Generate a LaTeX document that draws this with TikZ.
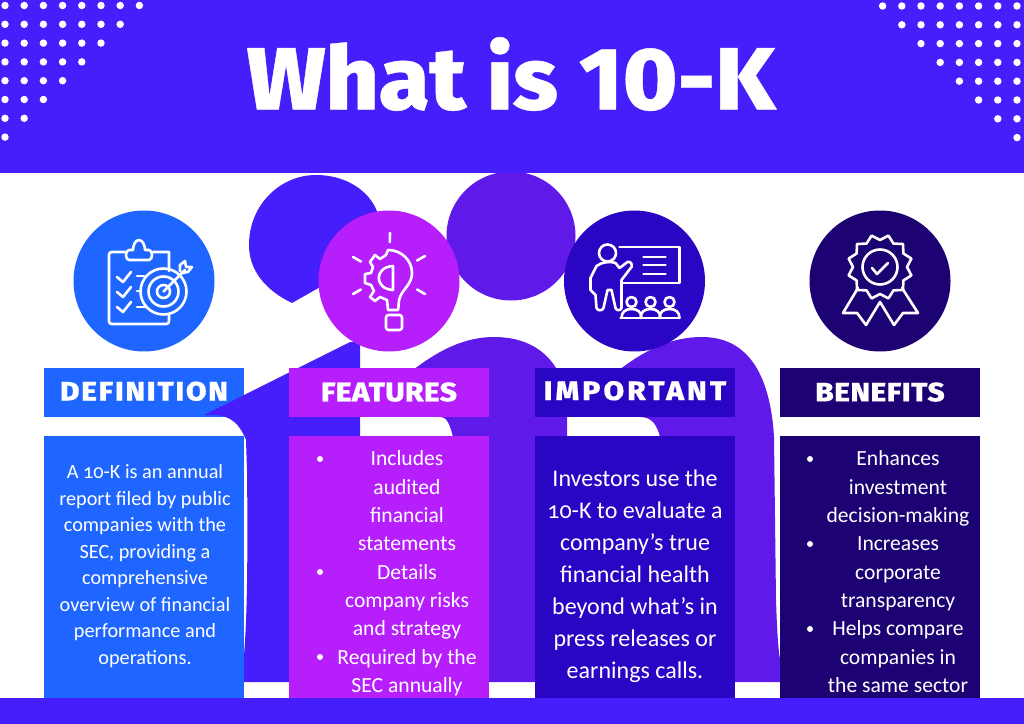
\documentclass[tikz,border=0pt]{standalone}
\usepackage{fontspec}
\usepackage{tikz}
\setmainfont{Carlito}
\newfontfamily\bodyfont[Numbers=OldStyle]{Carlito}
\newfontfamily\titlefont[FakeStretch=1.05,FakeBold=0.5]{Fira Sans ExtraBold}
\newfontfamily\headfont[FakeStretch=1.12,FakeBold=0.4]{Fira Sans ExtraBold}

\definecolor{bandblue}{HTML}{461EFC}
\definecolor{shapepurple}{HTML}{5F19E8}
\definecolor{defblue}{HTML}{1E66FF}
\definecolor{featpink}{HTML}{B61FFC}
\definecolor{impindigo}{HTML}{2A05C4}
\definecolor{bennavy}{HTML}{1C0273}

\tikzset{
    headbox/.style={minimum width=150pt,minimum height=36.75pt,inner sep=0pt,text=white,font=\headfont\fontsize{20pt}{22pt}\selectfont},
    bodybox/.style={minimum width=150pt,minimum height=196.5pt,inner sep=0pt,anchor=north},
    iconcircle/.style={circle,minimum size=105.75pt,inner sep=0pt},
    iconline/.style={draw=white,line width=1.95pt,line cap=round,line join=round},
    bodytext/.style={text=white,align=center,inner sep=0pt,anchor=north},
    dotmark/.style={circle,fill=white,minimum size=5.6pt,inner sep=0pt},
    bulletmark/.style={circle,fill=white,minimum size=4.5pt,inner sep=0pt},
}

\begin{document}
\begin{tikzpicture}[x=0.75pt,y=0.75pt,yscale=-1,xscale=1]
    \useasboundingbox (0,0) rectangle (1024,724);
    \fill[white] (0,0) rectangle (1024,724);

    % First header box sits under the shapes
    \node[headbox,fill=defblue] (defhead) at (144,392.5) {\raisebox{2.25pt}{\addfontfeature{LetterSpace=6.6}DEFINITION}};

    % Heads
    \fill[bandblue] (292,303) .. controls (265,290) and (249,270) .. (249,245) .. controls (249,205) and (280,175) .. (316,175) .. controls (345,175) and (370,190) .. (378,214) -- (350,270) -- cycle;
    \fill[shapepurple] (511,236) circle (64.5);
    % Bodies
    \fill[bandblue] (204,415) -- (350,342) -- (360,342) -- (360,682) -- (244,682) -- (244,655) .. controls (247,620) and (248,560) .. (247,470) -- (246,440) .. controls (240,425) and (232,416) .. (215,415) -- cycle;
    \fill[shapepurple] (360,416) -- (417,367) .. controls (440,350) and (465,337) .. (494,337) .. controls (525,337) and (545,350) .. (556,368) -- (567,417) -- (567,682) -- (453,682) -- (453,437) .. controls (450,425) and (447,417) .. (441,417) -- cycle;
    \fill[shapepurple] (565,416) -- (623,367) .. controls (650,347) and (675,337) .. (702,337) .. controls (745,337) and (770,370) .. (774,437) -- (776,600) .. controls (777,630) and (778,650) .. (781,665) -- (781,682) -- (660,682) -- (660,437) .. controls (657,425) and (652,417) .. (640,417) -- cycle;

    % Bands
    \fill[bandblue] (0,0) rectangle (1024,173);
    \fill[bandblue] (0,698) rectangle (1024,724);

    % Dots
    \foreach \r in {0,...,7}{
        \pgfmathtruncatemacro{\last}{7-\r}
        \foreach \c in {0,...,\last}{
            \node[dotmark] (dl\r\c) at (5+19.2*\c,5.5+18.8*\r) {};
            \node[dotmark] (dr\r\c) at (1017-19.2*\c,6+18.8*\r) {};
        }
    }

    % Title
    \node[text=white,inner sep=0pt,font=\titlefont\fontsize{66pt}{70pt}\selectfont] (title) at (511,74) {What is 10-K};

    % Header boxes
    \node[headbox,fill=featpink] (feathead) at (389,392.5) {\raisebox{1.1pt}{\addfontfeature{LetterSpace=1.5}FEATURES}};
    \node[headbox,fill=impindigo] (imphead) at (635,392.5) {\raisebox{3pt}{\addfontfeature{LetterSpace=11.7}IMPORTANT}};
    \node[headbox,fill=bennavy] (benhead) at (880,392.5) {\raisebox{1pt}{\addfontfeature{LetterSpace=2}BENEFITS}};

    % Body boxes
    \node[bodybox,fill=defblue] (defbody) at (144,436) {};
    \node[bodybox,fill=featpink] (featbody) at (389,436) {};
    \node[bodybox,fill=impindigo] (impbody) at (635,436) {};
    \node[bodybox,fill=bennavy] (benbody) at (880,436) {};

    % Body text
    \node[bodytext,font=\bodyfont\fontsize{15.2pt}{19.85pt}\selectfont] (deftext) at (145,464.5) {A 10-K is an annual\\report filed by public\\companies with the\\SEC, providing a\\comprehensive\\overview of financial\\performance and\\operations.};
    \node[bodytext,font=\bodyfont\fontsize{16.2pt}{21.25pt}\selectfont] (feattext) at (407,450.5) {Includes\\audited\\financial\\statements\\Details\\company risks\\and strategy\\Required by the\\SEC annually};
    \node[bodytext,font=\bodyfont\fontsize{18pt}{24pt}\selectfont] (imptext) at (635,469.5) {Investors use the\\10-K to evaluate a\\company’s true\\financial health\\beyond what’s in\\press releases or\\earnings calls.};
    \node[bodytext,font=\bodyfont\fontsize{16.2pt}{21.25pt}\selectfont] (bentext) at (898,450.5) {Enhances\\investment\\decision-making\\Increases\\corporate\\transparency\\Helps compare\\companies in\\the same sector};

    % Bullets
    \foreach \y/\n in {459/a,572/b,657/c}{
        \node[bulletmark] (featdot\n) at (320,\y) {};
    }
    \foreach \y/\n in {459/a,544/b,629/c}{
        \node[bulletmark] (bendot\n) at (810,\y) {};
    }

    % Icon circles
    \node[iconcircle,fill=defblue] (deficon) at (144,281) {};
    \node[iconcircle,fill=featpink] (featicon) at (389,281) {};
    \node[iconcircle,fill=impindigo] (impicon) at (634.5,281) {};
    \node[iconcircle,fill=bennavy] (benicon) at (880,281) {};

    % Clipboard and target
    \begin{scope}[shift={(144,281)}]
        \draw[iconline] (25,-10) -- (25,-29) -- (9,-29) (-19,-29) -- (-32,-29) .. controls (-34,-29) and (-35,-28) .. (-35,-26) -- (-35,40) .. controls (-35,42) and (-34,43) .. (-32,43) -- (22,43) .. controls (24,43) and (25,42) .. (25,40) -- (25,34);
        \draw[iconline] (-15,-31) .. controls (-19,-31) and (-19,-21) .. (-15,-21) -- (5,-21) .. controls (9,-21) and (9,-31) .. (5,-31) -- (1,-31) .. controls (1,-35) and (-1,-41) .. (-5,-41) .. controls (-9,-41) and (-11,-35) .. (-11,-31) -- cycle;
        \foreach \y in {0,15,30}{
            \draw[iconline] (-27,-4+\y) -- (-21,1+\y) -- (-13,-9+\y);
        }
        \draw[iconline] (-7,-5) -- (0,-5) (-7,10) -- (-3,10) (-7,26) -- (2,26);
        \draw[iconline] (19.5,10.5) circle (23) (19.5,10.5) circle (15) (19.5,10.5) circle (6.5);
        \draw[iconline] (19.5,10.5) -- (41,-11) (36,-10) -- (36,-16) -- (41,-20) -- (42,-14) -- (48,-14) -- (44,-9) -- (38,-8);
    \end{scope}

    % Bulb and gear
    \begin{scope}[shift={(389,281)}]
        \foreach \a/\b in {1/-48,-36/-24,36/-25,-36/13,36/13}{
            \pgfmathsetmacro{\xa}{\a-0.22*\a}
            \pgfmathsetmacro{\ya}{\b==-48 ? -39 : \b+(\b<0 ? 4.5 : -4.5)}
            \draw[iconline] (\a,\b) -- (\xa,\ya);
        }
        \draw[iconline] (-1,-31) .. controls (12,-31) and (23,-21) .. (23,-8) .. controls (23,3) and (14,8) .. (11,16) .. controls (9,21) and (10,25) .. (9,29) -- (-1,29) -- (-2,19) -- (-9,16) -- (-14,20) -- (-19,16) -- (-15,10) -- (-18,4) -- (-24,2) -- (-24,-7) -- (-18,-8) -- (-16,-14) -- (-19,-19) -- (-14,-26) -- (-9,-22) -- (-3,-26) -- cycle;
        \draw[iconline] (4,-15) .. controls (-15,-14) and (-15,8) .. (4,9) -- cycle;
        \draw[iconline,rounded corners=2pt] (-3,34) rectangle (13,49);
    \end{scope}

    % Teacher and board
    \begin{scope}[shift={(634.5,281)}]
        \draw[iconline] (-15,-34) -- (45,-34) -- (45,2) -- (-12,2);
        \foreach \y in {-24,-16,-7}{
            \draw[iconline] (9,\y) -- (31,\y);
        }
        \draw[iconline] (-27,-28) circle (8.5);
        \draw[iconline] (-19,-18) -- (-15,-13) -- (-7,-19) .. controls (-4,-20) and (-2,-17) .. (-3,-14) -- (-13,-1) -- (-13,27) .. controls (-14,30) and (-18,30) .. (-19,27) -- (-23,9) -- (-27,9) -- (-31,27) .. controls (-32,30) and (-37,30) .. (-38,27) -- (-39,14) -- (-44,9) -- (-44,-3) -- (-38,-15) .. controls (-33,-19) and (-24,-20) .. (-19,-18) -- cycle;
        \draw[iconline] (-14,37) -- (45,37);
        \foreach \c in {-3,16,35}{
            \draw[iconline] (\c,21) circle (5);
            \draw[iconline] (\c-10,37) .. controls (\c-10,31) and (\c-6,28) .. (\c,28) .. controls (\c+6,28) and (\c+10,31) .. (\c+10,37);
        }
    \end{scope}

    % Badge and ribbon
    \begin{scope}[shift={(880,281)}]
        \begin{scope}[shift={(0,-14)}]
            \draw[iconline] (0:27) \foreach \a in {30,60,...,330}{ -- (\a-15:32.5) -- (\a:27) } -- (345:32.5) -- cycle;
            \draw[iconline] (0,0) circle (17.5);
        \end{scope}
        \draw[iconline] (-8,-13) -- (-3,-7) -- (8,-18);
        \draw[iconline] (-22,7) -- (-37,32) -- (-23,32) -- (-14,44) -- (0,21) -- (14,44) -- (23,32) -- (38,32) -- (22,7);
    \end{scope}
\end{tikzpicture}
\end{document}
